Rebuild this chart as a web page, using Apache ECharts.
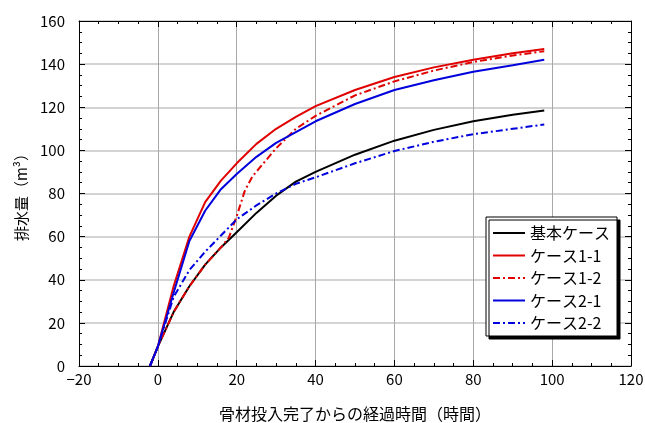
<!DOCTYPE html>
<html>
<head>
<meta charset="utf-8">
<script src="https://cdn.jsdelivr.net/npm/echarts@6/dist/echarts.min.js"></script>
<style>
html,body{margin:0;padding:0;background:#fff;}
#chart{width:645px;height:423px;}
</style>
</head>
<body>
<div id="chart"></div>
<script>
// 経過時間 (hours)
var xValues = [-2, 0, 4, 8, 12, 16, 20, 25, 30, 35, 40, 50, 60, 70, 80, 90, 98];
var baseCase = [0, 9, 25, 37, 47, 55, 62, 71, 79, 85.5, 90, 98, 104.5, 109.5, 113.5, 116.5, 118.5];
var case11 = [0, 9, 37, 60, 76, 86, 94, 103, 110, 115.5, 120.5, 128, 134, 138.5, 142, 145, 147];
var case21 = [0, 9, 34, 58, 72, 82, 89, 97, 103.5, 108.5, 113.5, 121.5, 128, 132.5, 136.5, 139.5, 142];
var case22 = [0, 9, 32, 44.5, 53, 60.5, 68, 74.5, 80, 84.5, 87.5, 94, 99.7, 104, 107.5, 110, 112];
// ケース1-2 has its own sampling (jump after ~18h)
var case12X = [-2, 0, 4, 8, 12, 16, 18, 20, 22, 24, 27, 30, 35, 40, 50, 60, 70, 80, 90, 98];
var case12 = [0, 9, 25, 37, 47, 55, 59.5, 69.5, 81, 88, 94.5, 101, 110, 116, 125.5, 132, 137, 141, 144, 146];

var seriesNames = ['基本ケース', 'ケース1-1', 'ケース1-2', 'ケース2-1', 'ケース2-2'];
var xTicks = {min: -20, max: 120, interval: 20};
var yTicks = {min: 0, max: 160, interval: 20};

function zip(xs, ys) { return xs.map(function (x, i) { return [x, ys[i]]; }); }

var FONT = '"Noto Sans CJK JP", "Noto Sans", sans-serif';
var dashDot = [7, 3, 2, 3];

var chart = echarts.init(document.getElementById('chart'), null, {renderer: 'canvas'});

function mkSeries(name, data, color, type) {
  return {
    name: name, type: 'line', data: data, symbol: 'none', smooth: false,
    xAxisIndex: 0, yAxisIndex: 0,
    lineStyle: {color: color, width: 2, type: type},
    itemStyle: {color: color},
    z: 5
  };
}

var option = {
  animation: false,
  backgroundColor: '#fff',
  textStyle: {fontFamily: FONT},
  grid: {left: 79, right: 14, top: 21, bottom: 57, containLabel: false, outerBoundsMode: 'none'},
  xAxis: [{
    type: 'value', min: xTicks.min, max: xTicks.max, interval: xTicks.interval,
    name: '骨材投入完了からの経過時間（時間）', nameLocation: 'middle', nameGap: 40,
    nameTextStyle: {fontSize: 16, color: '#000', fontFamily: FONT},
    axisLine: {show: true, onZero: false, lineStyle: {color: '#000', width: 1}},
    axisTick: {show: true, inside: true, length: 6, lineStyle: {color: '#000'}},
    minorTick: {show: true, splitNumber: 4, length: 3, lineStyle: {color: '#000'}},
    axisLabel: {fontSize: 15, color: '#000', margin: 6, fontFamily: FONT,
      formatter: function (v) { return String(v).replace('-', '\u2212'); }},
    splitLine: {show: true, lineStyle: {color: '#a8a8a8', width: 1}}
  }, {
    type: 'value', position: 'top', min: xTicks.min, max: xTicks.max, interval: xTicks.interval,
    axisLine: {show: true, onZero: false, lineStyle: {color: '#000', width: 1}},
    axisTick: {show: true, inside: true, length: 6, lineStyle: {color: '#000'}},
    minorTick: {show: true, splitNumber: 4, length: 3, lineStyle: {color: '#000'}},
    axisLabel: {show: false}, splitLine: {show: false}
  }],
  yAxis: [{
    type: 'value', min: yTicks.min, max: yTicks.max, interval: yTicks.interval,
    name: '排水量（m³）', nameLocation: 'middle', nameGap: 44, nameRotate: 90,
    nameTextStyle: {fontSize: 15, color: '#000', fontFamily: FONT},
    axisLine: {show: true, onZero: false, lineStyle: {color: '#000', width: 1}},
    axisTick: {show: true, inside: true, length: 6, lineStyle: {color: '#000'}},
    minorTick: {show: true, splitNumber: 4, length: 3, lineStyle: {color: '#000'}},
    axisLabel: {fontSize: 15, color: '#000', margin: 14, fontFamily: FONT},
    splitLine: {show: true, lineStyle: {color: '#c4c4c4', width: 1.5}}
  }, {
    type: 'value', position: 'right', min: yTicks.min, max: yTicks.max, interval: yTicks.interval,
    axisLine: {show: true, onZero: false, lineStyle: {color: '#000', width: 1}},
    axisTick: {show: true, inside: true, length: 6, lineStyle: {color: '#000'}},
    minorTick: {show: true, splitNumber: 4, length: 3, lineStyle: {color: '#000'}},
    axisLabel: {show: false}, splitLine: {show: false}
  }],
  legend: {
    data: seriesNames,
    orient: 'vertical', left: 486, top: 217,
    itemWidth: 32, itemHeight: 12, itemGap: 4.5,
    padding: [7, 7, 4, 6],
    backgroundColor: '#fff', borderColor: '#000', borderWidth: 1,
    shadowColor: '#000', shadowBlur: 0, shadowOffsetX: 3, shadowOffsetY: 3,
    textStyle: {fontSize: 16, color: '#000', fontFamily: FONT, lineHeight: 18},
    itemStyle: {opacity: 0}
  },
  series: [
    mkSeries(seriesNames[0], zip(xValues, baseCase), '#000000', 'solid'),
    mkSeries(seriesNames[1], zip(xValues, case11), '#e00000', 'solid'),
    mkSeries(seriesNames[2], zip(case12X, case12), '#e00000', dashDot),
    mkSeries(seriesNames[3], zip(xValues, case21), '#0000dd', 'solid'),
    mkSeries(seriesNames[4], zip(xValues, case22), '#0000dd', dashDot)
  ]
};
chart.setOption(option);
</script>
</body>
</html>
